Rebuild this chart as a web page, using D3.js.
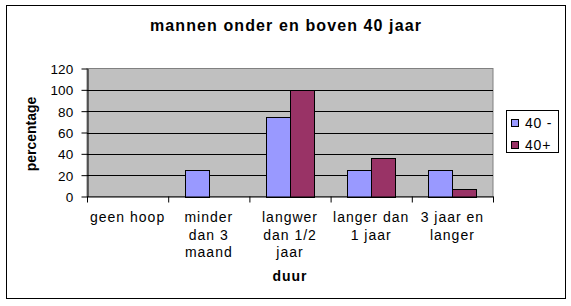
<!DOCTYPE html>
<html>
<head>
<meta charset="utf-8">
<script src="https://cdn.jsdelivr.net/npm/d3@7"></script>
<style>
    body { margin: 0; background: #fff; }
    text { font-family: Arial, "Liberation Sans", sans-serif; }
</style>
</head>
<body>
<div id="main"></div>
<script>
const categories = ["geen hoop", "minder dan 3 maand", "langwer dan 1/2 jaar", "langer dan 1 jaar", "3 jaar en langer"];
const categoryLines = [["geen hoop"], ["minder", "dan 3", "maand"], ["langwer", "dan 1/2", "jaar"], ["langer dan", "1 jaar"], ["3 jaar en", "langer"]];
const seriesNames = ["40 -", "40+"];
const under40 = [0, 25, 75, 25, 25];
const over40 = [0, 0, 100, 36, 7];
const yTicks = [0, 20, 40, 60, 80, 100, 120];
const colors = ["#9999ff", "#993366"];

onload = () => {
    const d3 = window.d3;
    let svg = d3.select("#main").append("svg")
        .attr("width", 571).attr("height", 306);

    svg.append("rect")
        .attr("x", 6.5).attr("y", 5.5).attr("width", 559).attr("height", 293)
        .attr("fill", "#fff").attr("stroke", "#000");

    const left = 87, right = 493, top = 68.5, bottom = 196.5;

    let xScale = d3.scaleBand().domain(categories).range([left, right]).paddingInner(0).paddingOuter(0);
    let xSub = d3.scaleBand().domain(seriesNames).range([0, xScale.bandwidth()]).paddingOuter(0.69).paddingInner(0);
    let yScale = d3.scaleLinear().domain([0, 120]).range([bottom, top]);
    let xEdges = d3.scaleLinear().domain([0, categories.length]).range([left, right]);

    // plot area
    svg.append("rect")
        .attr("x", left).attr("y", top).attr("width", right - left).attr("height", bottom - top)
        .attr("fill", "#c0c0c0").attr("stroke", "#808080");

    // gridlines
    svg.append("g").selectAll("line").data(yTicks.filter(t => t > 0 && t < 120)).join("line")
        .attr("x1", left).attr("x2", right)
        .attr("y1", d => Math.round(yScale(d)) + 0.5).attr("y2", d => Math.round(yScale(d)) + 0.5)
        .attr("stroke", "#000");

    // bars
    const series = [under40, over40];
    let groups = svg.append("g").selectAll("g").data(series).join("g")
        .attr("fill", (d, i) => colors[i]);
    groups.selectAll("rect").data((d, i) => d.map((v, j) => ({ v, cat: categories[j], s: seriesNames[i] })))
        .join("rect")
        .filter(d => d.v > 0)
        .attr("x", d => Math.round(xScale(d.cat) + xSub(d.s)) + 0.5)
        .attr("y", d => Math.round(yScale(d.v)) + 0.5)
        .attr("width", Math.round(xSub.bandwidth()))
        .attr("height", d => Math.round(yScale(0)) - Math.round(yScale(d.v)))
        .attr("stroke", "#000");

    // y axis
    let axisLeft = d3.axisLeft(yScale).tickValues(yTicks).tickSizeInner(6).tickSizeOuter(0).tickPadding(8);
    svg.append("g")
        .attr("transform", `translate(${left + 0.5}, 0)`)
        .call(axisLeft)
        .call(g => g.selectAll("text").style("font-size", "13.5px").style("letter-spacing", "0.2px").attr("fill", "#000").attr("dy", "0.36em"))
        .call(g => g.select(".domain").attr("stroke", "#000"));

    // x axis with boundary ticks
    let axisBottom = d3.axisBottom(xEdges).tickValues(d3.range(categories.length + 1)).tickFormat("").tickSizeInner(6).tickSizeOuter(0);
    svg.append("g")
        .attr("transform", `translate(0, ${bottom})`)
        .call(axisBottom)
        .call(g => g.select(".domain").attr("stroke", "#000"));

    // category labels
    let labels = svg.append("g").selectAll("text").data(categoryLines).join("text")
        .attr("text-anchor", "middle")
        .style("font-size", "14px")
        .style("letter-spacing", "1px");
    labels.selectAll("tspan").data((d, i) => d.map(l => ({ l, c: categories[i] }))).join("tspan")
        .attr("x", d => xScale(d.c) + xScale.bandwidth() / 2)
        .attr("y", (d, k) => 222 + k * 17.7)
        .text(d => d.l);

    // title
    svg.append("text")
        .attr("x", 286).attr("y", 31)
        .attr("text-anchor", "middle")
        .style("font-size", "16px").style("font-weight", "bold")
        .style("letter-spacing", "1.1px")
        .text("mannen onder en boven 40 jaar");

    svg.append("text")
        .attr("x", 290).attr("y", 281)
        .attr("text-anchor", "middle")
        .style("font-size", "14px").style("font-weight", "bold")
        .style("letter-spacing", "1px")
        .text("duur");

    svg.append("text")
        .attr("transform", "translate(36, 134) rotate(-90)")
        .attr("text-anchor", "middle")
        .style("font-size", "14px").style("font-weight", "bold")
        .text("percentage");

    // legend
    let legend = svg.append("g");
    legend.append("rect")
        .attr("x", 506.5).attr("y", 110.5).attr("width", 52).attr("height", 42)
        .attr("fill", "#fff").attr("stroke", "#000");
    let items = legend.selectAll("g").data(seriesNames).join("g")
        .attr("transform", (d, i) => `translate(0, ${i * 22})`);
    items.append("rect")
        .attr("x", 511.5).attr("y", 119.5).attr("width", 7).attr("height", 7)
        .attr("fill", (d, i) => colors[i]).attr("stroke", "#000");
    items.append("text")
        .attr("x", 525).attr("y", 128)
        .style("font-size", "14px")
        .style("letter-spacing", "0.8px")
        .text(d => d);
};
</script>
</body>
</html>
